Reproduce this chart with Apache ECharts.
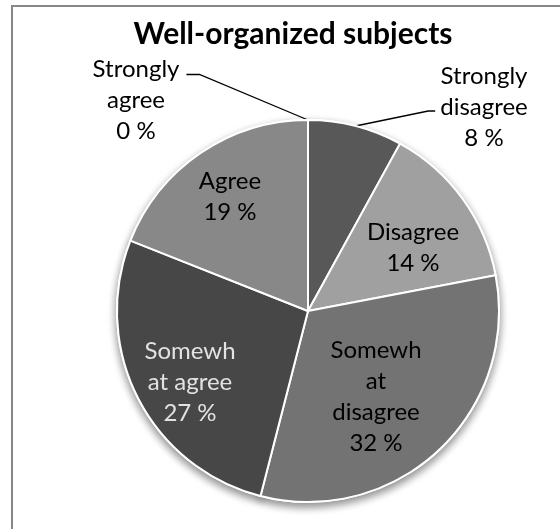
<!DOCTYPE html>
<html><head><meta charset="utf-8">
<script src="https://cdn.jsdelivr.net/npm/echarts@6/dist/echarts.min.js"></script>
<style>html,body{margin:0;padding:0;background:#fff}#c{width:560px;height:529px}</style>
</head><body><div id="c"></div>
<script>
const chartTitle = 'Well-organized subjects';
const categories = ['Strongly disagree', 'Disagree', 'Somewhat disagree', 'Somewhat agree', 'Agree', 'Strongly agree'];
const labelTexts = ['Strongly\ndisagree', 'Disagree', 'Somewh\nat\ndisagree', 'Somewh\nat agree', 'Agree', 'Strongly\nagree'];
const values = [8, 14, 32, 27, 19, 0];
const colors = ['#585858', '#a0a0a0', '#737373', '#474747', '#888888', '#7f7f7f'];
const labelColors = ['#000', '#000', '#000', '#e2e2e2', '#000', '#000'];

const CX = 308, CY = 311, R = 191;
const FONT = 'Lato, "Noto Sans", sans-serif';
// label anchor centres (layout only)
const labelPos = {0: [484, 107], 1: [413, 248], 2: [376, 397], 3: [190, 382], 4: [230, 197], 5: [136, 100]};
const total = values.reduce((a, b) => a + b, 0);

function edgePoint(i) {
  let cum = 0;
  for (let k = 0; k < i; k++) cum += values[k];
  const a = 2 * Math.PI * (cum + values[i] / 2) / total;
  return [CX + R * Math.sin(a), CY - R * Math.cos(a)];
}

const chart = echarts.init(document.getElementById('c'), null, {renderer: 'canvas'});

const mainData = categories.map((c, i) => ({
  name: c,
  value: values[i],
  itemStyle: {color: colors[i]},
  label: {
    position: (i === 0 || i === 5) ? 'outside' : 'inside',
    color: labelColors[i]
  }
}));

chart.setOption({
  animation: false,
  graphic: [
    {type: 'rect', z: -10, shape: {x: 12, y: 6, width: 700, height: 700},
     style: {fill: 'none', stroke: '#878787', lineWidth: 2}},
    {type: 'text', x: 293, y: 34, style: {text: chartTitle, font: 'bold 30px ' + FONT,
      fill: '#000', align: 'center', verticalAlign: 'middle'}}
  ],
  series: [
    {
      type: 'pie', silent: true, z: 1,
      center: [CX, CY], radius: R, startAngle: 90, clockwise: true,
      data: categories.map((c, i) => ({name: c, value: values[i]})),
      itemStyle: {color: '#fff', borderColor: '#fff', borderWidth: 2,
        shadowBlur: 9, shadowOffsetY: 4, shadowColor: 'rgba(0,0,0,0.45)'},
      label: {show: false}, labelLine: {show: false}
    },
    {
      type: 'pie', z: 2,
      center: [CX, CY], radius: R, startAngle: 90, clockwise: true,
      avoidLabelOverlap: false,
      data: mainData,
      itemStyle: {borderColor: '#fff', borderWidth: 2},
      label: {
        show: true,
        fontFamily: FONT, fontSize: 24, lineHeight: 31,
        align: 'center',
        formatter: p => labelTexts[p.dataIndex] + '\n' + p.value + ' %'
      },
      labelLine: {show: true, length: 20, length2: 10, lineStyle: {color: '#000', width: 1.3}},
      labelLayout: function (p) {
        const i = p.dataIndex;
        const r = p.labelRect;
        const w = r.width, h = r.height;
        const x = labelPos[i][0], y = labelPos[i][1];
        const out = {x: x, y: y, align: 'center', verticalAlign: 'middle'};
        if (i === 0) {
          const left = x - w / 2;
          const ey = y + 4;
          out.labelLinePoints = [edgePoint(0), [left - 12, ey], [left - 5, ey]];
        } else if (i === 5) {
          const right = x + w / 2;
          const ey = y - h / 2 + 21;
          out.labelLinePoints = [[CX, CY - R], [right + 20, ey], [right + 7, ey]];
        }
        return out;
      }
    }
  ]
});
</script></body></html>
